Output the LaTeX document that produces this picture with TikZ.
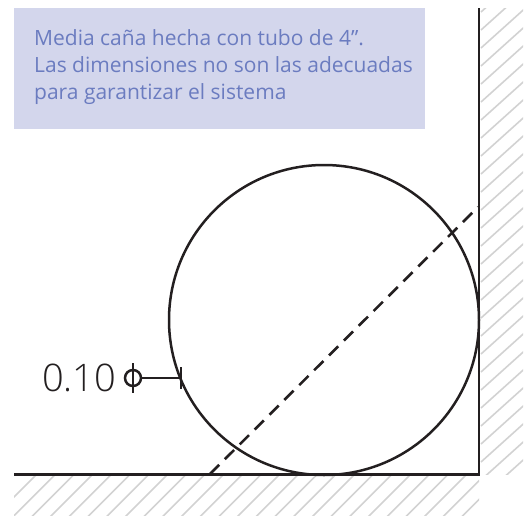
\documentclass[tikz,border=0pt]{standalone}
\usepackage{fontspec}
\setmainfont{Open Sans}
\newfontfamily\lightfont{Open Sans Light}
\definecolor{boxfill}{RGB}{211,214,236}
\definecolor{boxtext}{RGB}{107,124,192}
\definecolor{ink}{RGB}{35,31,32}
\definecolor{hatch}{RGB}{210,210,210}
\tikzset{
  wall/.style={draw=ink,line width=2.8pt},
  thin line/.style={draw=ink,line width=2.5pt},
  hatchline/.style={draw=hatch,line width=1.6pt},
  dashline/.style={draw=ink,line width=2.6pt,dash pattern=on 13pt off 8pt},
  note/.style={fill=boxfill,anchor=north west,inner sep=0pt,minimum width=411pt,minimum height=121pt},
  notetext/.style={text=boxtext,font=\fontsize{21}{27}\selectfont,align=left,anchor=north west,inner sep=0pt},
}
\begin{document}
\begin{tikzpicture}[x=1pt,y=-1pt]
\useasboundingbox (0,0) rectangle (528,515);
% hatching: floor
\begin{scope}
\clip (14,476) rectangle (479,515);
\foreach \i in {0,...,27}{
  \draw[hatchline] ({\i*18.7-9},520) -- ++(60,-60);
}
\end{scope}
% hatching: wall
\begin{scope}
\clip (480,8) rectangle (523,474);
\foreach \i in {-1,...,27}{
  \draw[hatchline] (481,{\i*18+30}) -- ++(60,-54);
}
\end{scope}
\node[note] (n) at (14,8) {};
\node[notetext] (t) at (34,29) {Media caña hecha con tubo de 4”.\\Las dimensiones no son las adecuadas\\para garantizar el sistema};
\coordinate (fl) at (14,474.5);
\coordinate (cn) at (479,474.5);
\coordinate (wt) at (479,8);
\draw[wall] (fl) -- (cn) -- (wt);
\node[draw=ink,line width=2.5pt,circle,minimum size=310pt,inner sep=0pt] (c) at (324,320) {};
\coordinate (d1) at (210,474);
\coordinate (d2) at (478,207);
\draw[dashline] (d1) -- (d2);
\node[text=ink,font=\lightfont\fontsize{38}{38}\selectfont,anchor=base west,inner sep=0pt] (v) at (42,391) {0.10};
\node[draw=ink,line width=2.5pt,circle,minimum size=16pt,inner sep=0pt] (p) at (133,378) {};
\coordinate (p1) at (133,363);
\coordinate (p2) at (133,393);
\draw[thin line] (p1) -- (p2);
\coordinate (t1) at (181,367);
\coordinate (t2) at (181,389);
\coordinate (tm) at (181,378);
\draw[thin line] (p.east) -- (tm);
\draw[thin line] (t1) -- (t2);
\end{tikzpicture}
\end{document}
